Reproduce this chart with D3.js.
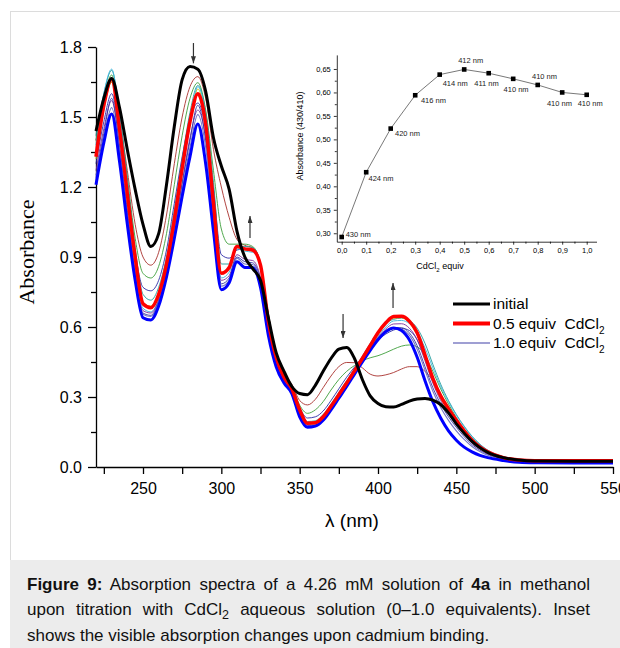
<!DOCTYPE html>
<html>
<head>
<meta charset="utf-8">
<script src="https://cdn.jsdelivr.net/npm/d3@7"></script>
<style>
  body { margin: 0; background: #fff; }
  svg { display: block; font-family: "Liberation Sans", Arial, sans-serif; }
</style>
</head>
<body>
<div id="chart"></div>
<script>
// wavelength grid (nm)
const wavelengths = [220, 225, 230, 235, 240, 245, 250, 255, 260, 265,
  270, 275, 280, 285, 290, 295, 300, 305, 310, 315,
  320, 325, 330, 335, 340, 345, 350, 355, 360, 365,
  370, 375, 380, 385, 390, 395, 400, 405, 410, 415,
  420, 425, 430, 435, 440, 445, 450, 455, 460, 465,
  470, 480, 490, 500, 525, 550];

// absorbance, one array per addition
const absInitial = [1.44, 1.58, 1.665, 1.54, 1.36, 1.19, 1.04, 0.945, 1.00, 1.21,
  1.46, 1.66, 1.716, 1.705, 1.61, 1.41, 1.29, 1.19, 1.01, 0.90,
  0.85, 0.80, 0.64, 0.49, 0.41, 0.345, 0.315, 0.31, 0.35, 0.41,
  0.465, 0.505, 0.512, 0.465, 0.375, 0.305, 0.272, 0.258, 0.257, 0.268,
  0.282, 0.291, 0.294, 0.287, 0.268, 0.232, 0.185, 0.145, 0.11, 0.083,
  0.063, 0.04, 0.03, 0.026, 0.025, 0.025];
const abs01 = [1.40, 1.55, 1.65, 1.50, 1.27, 1.04, 0.90, 0.865, 0.92, 1.08,
  1.30, 1.50, 1.63, 1.673, 1.58, 1.36, 1.20, 1.07, 0.975, 0.95,
  0.94, 0.86, 0.65, 0.49, 0.40, 0.355, 0.285, 0.266, 0.29, 0.34,
  0.39, 0.43, 0.448, 0.447, 0.425, 0.398, 0.39, 0.395, 0.405, 0.42,
  0.43, 0.43, 0.41, 0.37, 0.31, 0.255, 0.20, 0.155, 0.117, 0.088,
  0.066, 0.04, 0.03, 0.027, 0.026, 0.026];
const abs02 = [1.40, 1.58, 1.68, 1.50, 1.24, 0.98, 0.83, 0.81, 0.86, 1.00,
  1.21, 1.42, 1.58, 1.647, 1.53, 1.27, 1.02, 0.955, 0.955, 0.955,
  0.945, 0.87, 0.65, 0.485, 0.395, 0.35, 0.265, 0.23, 0.245, 0.28,
  0.33, 0.375, 0.41, 0.435, 0.455, 0.468, 0.477, 0.49, 0.505, 0.518,
  0.523, 0.515, 0.48, 0.41, 0.335, 0.27, 0.212, 0.163, 0.123, 0.092,
  0.068, 0.042, 0.031, 0.027, 0.026, 0.026];
const abs03 = [1.30, 1.48, 1.60, 1.42, 1.16, 0.92, 0.77, 0.755, 0.80, 0.93,
  1.13, 1.33, 1.49, 1.56, 1.45, 1.19, 0.91, 0.895, 0.93, 0.935,
  0.93, 0.86, 0.64, 0.48, 0.39, 0.345, 0.255, 0.21, 0.215, 0.24,
  0.285, 0.335, 0.385, 0.428, 0.47, 0.51, 0.545, 0.57, 0.587, 0.594,
  0.585, 0.545, 0.465, 0.375, 0.30, 0.24, 0.19, 0.145, 0.108, 0.082,
  0.062, 0.039, 0.029, 0.025, 0.024, 0.024];
const abs04 = [1.42, 1.60, 1.70, 1.52, 1.24, 0.94, 0.74, 0.715, 0.77, 0.90,
  1.10, 1.32, 1.52, 1.635, 1.52, 1.22, 0.87, 0.87, 0.945, 0.945,
  0.94, 0.875, 0.655, 0.49, 0.395, 0.35, 0.255, 0.195, 0.198, 0.225,
  0.27, 0.32, 0.37, 0.422, 0.475, 0.53, 0.58, 0.615, 0.633, 0.638,
  0.628, 0.595, 0.53, 0.44, 0.355, 0.285, 0.225, 0.175, 0.132, 0.098,
  0.072, 0.043, 0.032, 0.028, 0.027, 0.027];
const abs05 = [1.33, 1.55, 1.662, 1.45, 1.17, 0.90, 0.70, 0.683, 0.74, 0.87,
  1.06, 1.28, 1.48, 1.60, 1.47, 1.13, 0.83, 0.855, 0.945, 0.935,
  0.93, 0.865, 0.625, 0.47, 0.385, 0.335, 0.245, 0.188, 0.19, 0.215,
  0.26, 0.31, 0.36, 0.412, 0.465, 0.52, 0.575, 0.618, 0.645, 0.646,
  0.625, 0.575, 0.48, 0.38, 0.305, 0.25, 0.20, 0.155, 0.115, 0.086,
  0.065, 0.04, 0.03, 0.027, 0.027, 0.027];
const abs06 = [1.32, 1.53, 1.65, 1.44, 1.15, 0.88, 0.70, 0.69, 0.745, 0.87,
  1.05, 1.27, 1.47, 1.62, 1.48, 1.14, 0.835, 0.85, 0.94, 0.93,
  0.925, 0.86, 0.62, 0.465, 0.38, 0.332, 0.24, 0.185, 0.187, 0.212,
  0.257, 0.307, 0.357, 0.41, 0.463, 0.517, 0.57, 0.612, 0.638, 0.64,
  0.617, 0.565, 0.47, 0.37, 0.295, 0.24, 0.192, 0.148, 0.11, 0.082,
  0.062, 0.038, 0.028, 0.025, 0.025, 0.025];
const abs07 = [1.38, 1.60, 1.705, 1.50, 1.20, 0.90, 0.68, 0.665, 0.72, 0.85,
  1.04, 1.26, 1.47, 1.63, 1.50, 1.14, 0.81, 0.835, 0.935, 0.925,
  0.92, 0.87, 0.64, 0.48, 0.39, 0.34, 0.24, 0.182, 0.184, 0.21,
  0.254, 0.304, 0.354, 0.406, 0.458, 0.51, 0.56, 0.60, 0.626, 0.628,
  0.615, 0.58, 0.51, 0.425, 0.345, 0.28, 0.222, 0.172, 0.13, 0.097,
  0.072, 0.044, 0.032, 0.028, 0.028, 0.028];
const abs08 = [1.27, 1.45, 1.57, 1.38, 1.10, 0.84, 0.67, 0.66, 0.715, 0.84,
  1.02, 1.22, 1.41, 1.53, 1.41, 1.09, 0.80, 0.82, 0.91, 0.89,
  0.885, 0.81, 0.59, 0.45, 0.37, 0.325, 0.23, 0.178, 0.18, 0.205,
  0.25, 0.30, 0.35, 0.403, 0.455, 0.507, 0.555, 0.592, 0.613, 0.614,
  0.595, 0.545, 0.455, 0.36, 0.285, 0.23, 0.183, 0.14, 0.103, 0.077,
  0.058, 0.036, 0.026, 0.023, 0.022, 0.022];
const abs09 = [1.25, 1.43, 1.58, 1.37, 1.09, 0.83, 0.66, 0.65, 0.71, 0.835,
  1.01, 1.21, 1.40, 1.55, 1.40, 1.07, 0.785, 0.81, 0.90, 0.88,
  0.875, 0.80, 0.585, 0.445, 0.368, 0.322, 0.225, 0.175, 0.178, 0.203,
  0.248, 0.298, 0.348, 0.40, 0.452, 0.503, 0.55, 0.585, 0.598, 0.597,
  0.575, 0.52, 0.43, 0.34, 0.27, 0.215, 0.17, 0.13, 0.096, 0.072,
  0.054, 0.034, 0.025, 0.022, 0.021, 0.021];
const abs10 = [1.24, 1.41, 1.54, 1.35, 1.07, 0.82, 0.655, 0.645, 0.705, 0.83,
  1.00, 1.19, 1.37, 1.51, 1.37, 1.05, 0.775, 0.80, 0.895, 0.87,
  0.868, 0.79, 0.58, 0.44, 0.365, 0.32, 0.222, 0.173, 0.177, 0.202,
  0.247, 0.297, 0.347, 0.40, 0.452, 0.503, 0.55, 0.583, 0.595, 0.59,
  0.565, 0.505, 0.415, 0.325, 0.255, 0.20, 0.155, 0.118, 0.088, 0.066,
  0.05, 0.032, 0.024, 0.021, 0.02, 0.02];
const absEnd = [1.21, 1.39, 1.513, 1.31, 1.04, 0.80, 0.64, 0.63, 0.69, 0.815,
  0.98, 1.16, 1.33, 1.47, 1.30, 1.01, 0.76, 0.79, 0.88, 0.855,
  0.855, 0.77, 0.565, 0.43, 0.36, 0.315, 0.215, 0.17, 0.175, 0.20,
  0.245, 0.295, 0.345, 0.398, 0.45, 0.50, 0.545, 0.58, 0.596, 0.585,
  0.545, 0.47, 0.37, 0.28, 0.21, 0.155, 0.115, 0.085, 0.065, 0.05,
  0.04, 0.028, 0.02, 0.018, 0.017, 0.017];

const xTicks = [250, 300, 350, 400, 450, 500, 550];
const xMinor = [225, 275, 325, 375, 425, 475, 525];
const yTicks = [0, 0.3, 0.6, 0.9, 1.2, 1.5, 1.8];
const yMinor = [0.15, 0.45, 0.75, 1.05, 1.35, 1.65];

// inset: absorbance at lambda max vs. equivalents
const insetEquiv = [0, 0.1, 0.2, 0.3, 0.4, 0.5, 0.6, 0.7, 0.8, 0.9, 1.0];
const insetAbs = [0.292, 0.430, 0.523, 0.594, 0.638, 0.649, 0.641, 0.629, 0.616, 0.600, 0.595];
const insetPeaks = ["430 nm", "424 nm", "420 nm", "416 nm", "414 nm", "412 nm", "411 nm", "410 nm", "410 nm", "410 nm", "410 nm"];
const insetXTicks = [0, 0.1, 0.2, 0.3, 0.4, 0.5, 0.6, 0.7, 0.8, 0.9, 1.0];
const insetYTicks = [0.30, 0.35, 0.40, 0.45, 0.50, 0.55, 0.60, 0.65];

const legendLabels = ["initial", "0.5 equiv  CdCl", "1.0 equiv  CdCl"];

const width = 620, height = 648;
const svg = d3.select("#chart").append("svg")
  .attr("width", width)
  .attr("height", height);

// page frame and caption box
svg.append("rect")
  .attr("x", 10.5).attr("y", 11.5)
  .attr("width", 700).attr("height", 700)
  .attr("fill", "#fff").attr("stroke", "#dcdcdc");
svg.append("rect")
  .attr("x", 10).attr("y", 560)
  .attr("width", 610).attr("height", 88)
  .attr("fill", "#ececec");

const x = d3.scaleLinear().domain([220, 550]).range([96, 613]);
const y = d3.scaleLinear().domain([0, 1.8]).range([467, 47]);

function styleAxis(g, size) {
  g.attr("font-family", null).attr("font-size", null);
  g.selectAll("path, line").attr("stroke", "#000").attr("stroke-width", 1.3);
  g.selectAll("text").style("font-size", size).attr("fill", "#000");
}

// axes
const gx = svg.append("g")
  .attr("transform", "translate(0,467)")
  .call(d3.axisBottom(x).tickValues(xTicks).tickSize(7).tickSizeOuter(0).tickPadding(9).tickFormat(d3.format("d")));
styleAxis(gx, "16px");
const gxm = svg.append("g")
  .attr("transform", "translate(0,467)")
  .call(d3.axisBottom(x).tickValues(xMinor).tickSize(7).tickFormat(""));
gxm.select(".domain").remove();
styleAxis(gxm, "16px");

const gy = svg.append("g")
  .attr("transform", "translate(96,0)")
  .call(d3.axisLeft(y).tickValues(yTicks).tickSize(8).tickSizeOuter(0).tickPadding(6).tickFormat(d3.format(".1f")));
styleAxis(gy, "16px");
const gym = svg.append("g")
  .attr("transform", "translate(96,0)")
  .call(d3.axisLeft(y).tickValues(yMinor).tickSize(5).tickFormat(""));
gym.select(".domain").remove();
styleAxis(gym, "16px");

svg.append("text")
  .attr("transform", "translate(34,252) rotate(-90)")
  .attr("text-anchor", "middle")
  .style("font-family", "'Liberation Serif', 'Times New Roman', serif")
  .style("font-size", "22px")
  .text("Absorbance");

svg.append("text")
  .attr("x", 352).attr("y", 527)
  .attr("text-anchor", "middle")
  .style("font-size", "19px")
  .text("λ (nm)");

// spectra
const series = [
  { v: abs01, color: "#a8302c", w: 0.9 },
  { v: abs02, color: "#3c9e3a", w: 0.9 },
  { v: abs03, color: "#2a2aa6", w: 0.9 },
  { v: abs04, color: "#1f9c9c", w: 0.9 },
  { v: abs06, color: "#c9c000", w: 0.9 },
  { v: abs07, color: "#3cb4dc", w: 0.9 },
  { v: abs08, color: "#7a2c9c", w: 0.9 },
  { v: abs09, color: "#3434a0", w: 0.9 },
  { v: abs10, color: "#7777c6", w: 1.1 },
  { v: absEnd, color: "#0000ff", w: 3 },
  { v: abs05, color: "#ff0000", w: 3.5 },
  { v: absInitial, color: "#000000", w: 3 }
];

const line = d3.line()
  .x((d, i) => x(wavelengths[i]))
  .y(d => y(d))
  .curve(d3.curveMonotoneX);

svg.append("g").selectAll("path")
  .data(series)
  .enter().append("path")
  .attr("d", d => line(d.v))
  .attr("fill", "none")
  .attr("stroke", d => d.color)
  .attr("stroke-width", d => d.w)
  .attr("stroke-linejoin", "round");

// arrows marking the direction of change
const defs = svg.append("defs");
defs.append("marker")
  .attr("id", "head")
  .attr("viewBox", "0 0 10 10")
  .attr("refX", 10).attr("refY", 5)
  .attr("markerUnits", "userSpaceOnUse")
  .attr("markerWidth", 7).attr("markerHeight", 5)
  .attr("preserveAspectRatio", "none")
  .attr("orient", "auto")
  .append("path")
  .attr("d", "M0,0L10,5L0,10z")
  .attr("fill", "#333");

const arrows = [
  { nm: 282.2, from: 1.817, to: 1.73 },
  { nm: 318.3, from: 0.981, to: 1.076 },
  { nm: 377.7, from: 0.656, to: 0.553 },
  { nm: 409.6, from: 0.681, to: 0.789 }
];
svg.append("g").selectAll("line")
  .data(arrows)
  .enter().append("line")
  .attr("x1", d => x(d.nm)).attr("x2", d => x(d.nm))
  .attr("y1", d => y(d.from)).attr("y2", d => y(d.to))
  .attr("stroke", "#333")
  .attr("stroke-width", 1.2)
  .attr("marker-end", "url(#head)");

// legend
const legend = [
  { color: "#000", w: 3, y: 304 },
  { color: "#ff0000", w: 4, y: 323.5 },
  { color: "#7f7fc4", w: 1.6, y: 343 }
];
legend.forEach((d, i) => {
  svg.append("line")
    .attr("x1", 453).attr("x2", 490)
    .attr("y1", d.y).attr("y2", d.y)
    .attr("stroke", d.color)
    .attr("stroke-width", d.w);
  const t = svg.append("text")
    .attr("x", 493).attr("y", d.y)
    .attr("dy", "0.35em")
    .style("font-size", "15.5px")
    .style("white-space", "pre")
    .text(legendLabels[i]);
  if (i > 0) {
    t.append("tspan")
      .attr("dy", "5")
      .style("font-size", "10px")
      .text("2");
  }
});

// inset
const ix = d3.scaleLinear().domain([-0.02, 1.04]).range([336.8, 596.5]);
const iy = d3.scaleLinear().domain([0.282, 0.68]).range([241.7, 54.9]);
const comma = f => v => d3.format(f)(v).replace(".", ",");

const ixg = svg.append("g")
  .attr("transform", "translate(0,241.7)")
  .call(d3.axisBottom(ix).tickValues(insetXTicks).tickSize(3).tickSizeOuter(0).tickPadding(3).tickFormat(comma(".1f")));
styleAxis(ixg, "7.5px");
ixg.selectAll("path, line").attr("stroke-width", 0.8);
const ixm = svg.append("g")
  .attr("transform", "translate(0,241.7)")
  .call(d3.axisBottom(ix).tickValues(insetXTicks.slice(0, 10).map(d => d + 0.05)).tickSize(2).tickFormat(""));
ixm.select(".domain").remove();
styleAxis(ixm, "7.5px");
ixm.selectAll("line").attr("stroke-width", 0.8);

const iyg = svg.append("g")
  .attr("transform", "translate(336.8,0)")
  .call(d3.axisLeft(iy).tickValues(insetYTicks).tickSize(3).tickSizeOuter(0).tickPadding(3).tickFormat(comma(".2f")));
styleAxis(iyg, "7.5px");
iyg.selectAll("path, line").attr("stroke-width", 0.8);
const iym = svg.append("g")
  .attr("transform", "translate(336.8,0)")
  .call(d3.axisLeft(iy).tickValues(insetYTicks.slice(0, 7).map(d => d + 0.025)).tickSize(2).tickFormat(""));
iym.select(".domain").remove();
styleAxis(iym, "7.5px");
iym.selectAll("line").attr("stroke-width", 0.8);

svg.append("text")
  .attr("transform", "translate(303,136) rotate(-90)")
  .attr("text-anchor", "middle")
  .style("font-size", "9px")
  .text("Absorbance (430/410)");

const ixLabel = svg.append("text")
  .attr("x", 440).attr("y", 269)
  .attr("text-anchor", "middle")
  .style("font-size", "9px")
  .text("CdCl");
ixLabel.append("tspan").attr("dy", 2.5).style("font-size", "6px").text("2");
ixLabel.append("tspan").attr("dy", -2.5).text(" equiv");

const insetLine = d3.line()
  .x((d, i) => ix(insetEquiv[i]))
  .y(d => iy(d));
svg.append("path")
  .attr("d", insetLine(insetAbs))
  .attr("fill", "none")
  .attr("stroke", "#555")
  .attr("stroke-width", 0.8);

svg.append("g").selectAll("rect")
  .data(insetAbs)
  .enter().append("rect")
  .attr("x", (d, i) => ix(insetEquiv[i]) - 2.3)
  .attr("y", d => iy(d) - 2.3)
  .attr("width", 4.6).attr("height", 4.6)
  .attr("fill", "#000");

// offsets of the peak labels from their markers
const labelOffsets = [[4, 0], [2.3, 9], [4.3, 7], [5.7, 8], [3, 11.3], [-6, -6.3],
  [-14.4, 13], [-9.6, 13.4], [-5.7, -6.3], [-15.3, 13.3], [-9, 11.4]];
svg.append("g").selectAll("text")
  .data(insetPeaks)
  .enter().append("text")
  .attr("x", (d, i) => ix(insetEquiv[i]) + labelOffsets[i][0])
  .attr("y", (d, i) => iy(insetAbs[i]) + labelOffsets[i][1])
  .style("font-size", "7.5px")
  .attr("fill", "#222")
  .text(d => d);

// caption (first two lines justified to the box width)
const cap = svg.append("g").style("font-size", "17px").attr("fill", "#111");
const c1 = cap.append("text").attr("x", 27).attr("y", 589.5);
c1.append("tspan").style("font-weight", "bold").text("Figure 9:");
c1.append("tspan").text(" Absorption spectra of a 4.26 mM solution of ");
c1.append("tspan").style("font-weight", "bold").text("4a");
c1.append("tspan").text(" in methanol");
const c2 = cap.append("text").attr("x", 27).attr("y", 615);
c2.append("tspan").text("upon titration with CdCl");
c2.append("tspan").attr("dy", 4).style("font-size", "12.5px").text("2");
c2.append("tspan").attr("dy", -4).text(" aqueous solution (0–1.0 equivalents). Inset");
cap.append("text").attr("x", 27).attr("y", 640.5)
  .text("shows the visible absorption changes upon cadmium binding.");

[c1, c2].forEach(t => {
  const natural = t.node().getComputedTextLength();
  const spaces = (t.text().match(/ /g) || []).length;
  t.style("word-spacing", Math.max(0, (590 - 27 - natural) / spaces) + "px");
});
</script>
</body>
</html>
